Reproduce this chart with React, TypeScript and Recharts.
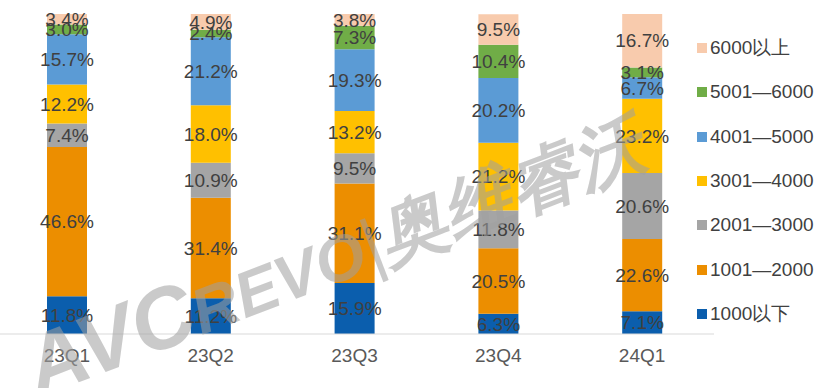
import React from "react";
import { BarChart, Bar, XAxis, YAxis, LabelList } from "recharts";

const quarters = ["23Q1", "23Q2", "23Q3", "23Q4", "24Q1"];

const below1000 = [11.8, 11.2, 15.9, 6.3, 7.1];
const r1001to2000 = [46.6, 31.4, 31.1, 20.5, 22.6];
const r2001to3000 = [7.4, 10.9, 9.5, 11.8, 20.6];
const r3001to4000 = [12.2, 18.0, 13.2, 21.2, 23.2];
const r4001to5000 = [15.7, 21.2, 19.3, 20.2, 6.7];
const r5001to6000 = [3.0, 2.4, 7.3, 10.4, 3.1];
const above6000 = [3.4, 4.9, 3.8, 9.5, 16.7];

const seriesNames = [
  "1000以下",
  "1001—2000",
  "2001—3000",
  "3001—4000",
  "4001—5000",
  "5001—6000",
  "6000以上",
];
const seriesValues = [
  below1000,
  r1001to2000,
  r2001to3000,
  r3001to4000,
  r4001to5000,
  r5001to6000,
  above6000,
];
const colors = ["#0b5ead", "#ec8e00", "#a5a5a5", "#ffc000", "#5b9bd5", "#70ad47", "#f8cbad"];

const data = quarters.map((q, i) => {
  const row: any = { name: q };
  seriesValues.forEach((vals, s) => {
    row["s" + s] = vals[i];
  });
  return row;
});

const FONT = "Arial, 'Liberation Sans', sans-serif";

const LegendBox = () => (
  <div style={{ position: "absolute", left: 697, top: 26, fontFamily: FONT, fontSize: 19, color: "#404040" }}>
    {seriesNames
      .map((n, i) => ({ n, c: colors[i] }))
      .reverse()
      .map((it) => (
        <div key={it.n} style={{ display: "flex", alignItems: "center", height: 44.3 }}>
          <span style={{ width: 10, height: 10, background: it.c, marginRight: 3, display: "inline-block" }} />
          <span>{it.n}</span>
        </div>
      ))}
  </div>
);

export default function App() {
  return (
    <div style={{ position: "absolute", left: 0, top: 0, width: 826, height: 388, overflow: "hidden", background: "#fff" }}>
      <div style={{ position: "absolute", left: -5, top: 0 }}>
        <BarChart
          width={831}
          height={388}
          data={data}
          margin={{ top: 14, right: 112, left: 0, bottom: 24 }}
        >
          <XAxis
            dataKey="name"
            axisLine={{ stroke: "#d9d9d9" }}
            tickLine={false}
            tickSize={0}
            tickMargin={15}
            height={30}
            tick={{ fill: "#595959", fontSize: 19, fontFamily: FONT }}
          />
          <YAxis hide domain={[0, 100]} allowDataOverflow />
          {seriesNames.map((n, s) => (
            <Bar key={n} dataKey={"s" + s} name={n} stackId="a" fill={colors[s]} barSize={40} isAnimationActive={false}>
              <LabelList
                dataKey={"s" + s}
                position="center"
                formatter={(v: any) => Number(v).toFixed(1) + "%"}
                style={{ fill: "#404040", fontSize: 19, fontFamily: FONT }}
              />
            </Bar>
          ))}
        </BarChart>
      </div>
      <LegendBox />
      {/* watermark */}
      <svg width={826} height={388} style={{ position: "absolute", left: 0, top: 0, pointerEvents: "none" }}>
        <text
          x={38}
          y={398}
          transform="rotate(-21 38 398)"
          fontFamily={FONT}
          fontWeight="bold"
          fontStyle="italic"
          fill="#a0a0a0"
          opacity={0.55}
        >
          <tspan fontSize={86}>AVC</tspan>
          <tspan fontSize={64}>REVO</tspan>
          <tspan fontSize={70} fontWeight="normal">|</tspan>
          <tspan fontSize={70}>奥维睿沃</tspan>
        </text>
      </svg>
    </div>
  );
}
